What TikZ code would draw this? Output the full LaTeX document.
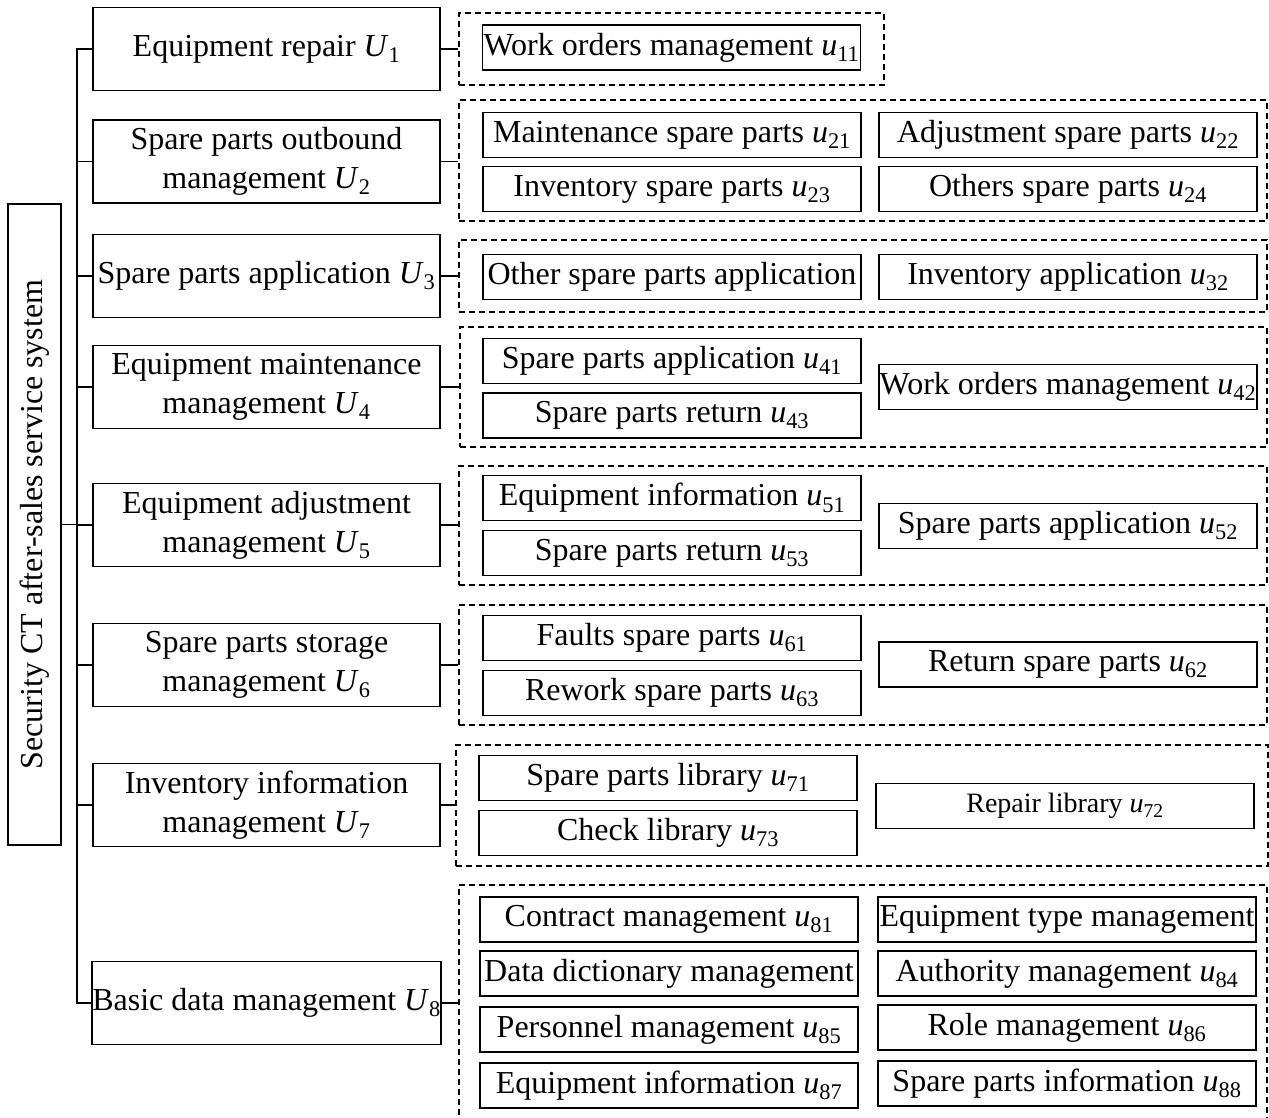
\documentclass[tikz,border=0pt]{standalone}
\usepackage{fontspec}
\setmainfont{Liberation Serif}
\usetikzlibrary{positioning}
\newcommand{\idx}[2]{\textit{#1}\textsubscript{#2}}

\begin{document}
\begin{tikzpicture}[x=1pt, y=-1pt,
    font=\fontsize{32}{39}\selectfont,
    root/.style={draw, line width=1.8pt, minimum width=53pt, minimum height=641pt, inner sep=0pt},
    module/.style={draw, line width=1.8pt, align=center, minimum width=347pt, minimum height=83pt, inner sep=0pt},
    item/.style={draw, line width=1.8pt, minimum width=378pt, minimum height=45pt, inner sep=0pt},
    group/.style={draw, line width=1.3pt, dash pattern=on 6pt off 4pt, inner sep=0pt},
    link/.style={line width=1.8pt}
]
    \useasboundingbox (0,0) rectangle (1269,1117);

    % System
    \node[root] (root) at (34.5,524.5) {\rotatebox{90}{Security CT after-sales service system}};

    % Modules
    \foreach \i/\y/\txt in {1/49/{Equipment repair \idx{U}{1}},
                            2/161.5/{Spare parts outbound\\management \idx{U}{2}},
                            3/276/{Spare parts application \idx{U}{3}},
                            4/387/{Equipment maintenance\\management \idx{U}{4}},
                            5/525/{Equipment adjustment\\management \idx{U}{5}},
                            6/665/{Spare parts storage\\management \idx{U}{6}},
                            7/805/{Inventory information\\management \idx{U}{7}},
                            8/1003/{Basic data management \idx{U}{8}}} {
        \node[module] (m\i) at (266.5,\y) {\txt};
    }

    % Dashed groups
    \foreach \i/\l/\t/\r/\b in {1/459/13/884/85, 2/459/100/1267/221, 3/459/240/1267/312,
                                4/460/327/1267/447, 5/459/466/1267/585, 6/459/605/1267/725,
                                7/456/745/1268/866, 8/459/885/1267/1125} {
        \node[group, minimum width={(\r-\l)*1pt}, minimum height={(\b-\t)*1pt}] (g\i) at ({(\l+\r)/2},{(\t+\b)/2}) {};
    }

    % Equipment repair
    \node[item] (u11) at (671.5,47.5) {Work orders management \idx{u}{11}};

    % Spare parts outbound
    \node[item] (u21) at (672,135) {Maintenance spare parts \idx{u}{21}};
    \node[item] (u22) at (1068,135) {Adjustment spare parts \idx{u}{22}};
    \node[item] (u23) at (672,189) {Inventory spare parts \idx{u}{23}};
    \node[item] (u24) at (1068,189) {Others spare parts \idx{u}{24}};

    % Spare parts application
    \node[item] (u31) at (672,277) {Other spare parts application};
    \node[item] (u32) at (1068,277) {Inventory application \idx{u}{32}};

    % Equipment maintenance
    \node[item] (u41) at (672,361) {Spare parts application \idx{u}{41}};
    \node[item] (u43) at (672,415.5) {Spare parts return \idx{u}{43}};
    \node[item] (u42) at (1068,387) {Work orders management \idx{u}{42}};

    % Equipment adjustment
    \node[item] (u51) at (672,498) {Equipment information \idx{u}{51}};
    \node[item] (u53) at (672,553) {Spare parts return \idx{u}{53}};
    \node[item] (u52) at (1068,526) {Spare parts application \idx{u}{52}};

    % Spare parts storage
    \node[item] (u61) at (672,638) {Faults spare parts \idx{u}{61}};
    \node[item] (u63) at (672,693) {Rework spare parts \idx{u}{63}};
    \node[item] (u62) at (1068,664.5) {Return spare parts \idx{u}{62}};

    % Inventory information
    \node[item] (u71) at (668,778) {Spare parts library \idx{u}{71}};
    \node[item] (u73) at (668,833) {Check library \idx{u}{73}};
    \node[item, font=\fontsize{28}{34}\selectfont] (u72) at (1065,806) {Repair library \idx{u}{72}};

    % Basic data
    \node[item] (u81) at (669,919.5) {Contract management \idx{u}{81}};
    \node[item] (u82) at (1067,919.5) {Equipment type management};
    \node[item] (u83) at (669,973.5) {Data dictionary management};
    \node[item] (u84) at (1067,973.5) {Authority management \idx{u}{84}};
    \node[item] (u85) at (669,1029.5) {Personnel management \idx{u}{85}};
    \node[item] (u86) at (1067,1027.5) {Role management \idx{u}{86}};
    \node[item] (u87) at (669,1085.5) {Equipment information \idx{u}{87}};
    \node[item] (u88) at (1067,1083.5) {Spare parts information \idx{u}{88}};

    % Tree lines
    \coordinate (trunk) at (77,0);
    \draw[link] (m1.west) -| (m8.west -| trunk) -- (m8.west);
    \draw[link] (root.east) -- (root.east -| trunk);
    \foreach \i in {2,...,7} {
        \draw[link] (m\i.west) -- (m\i.west -| trunk);
    }
    \foreach \i in {1,...,8} {
        \draw[link] (m\i.east) -- (m\i.east -| g\i.west);
    }
\end{tikzpicture}
\end{document}
